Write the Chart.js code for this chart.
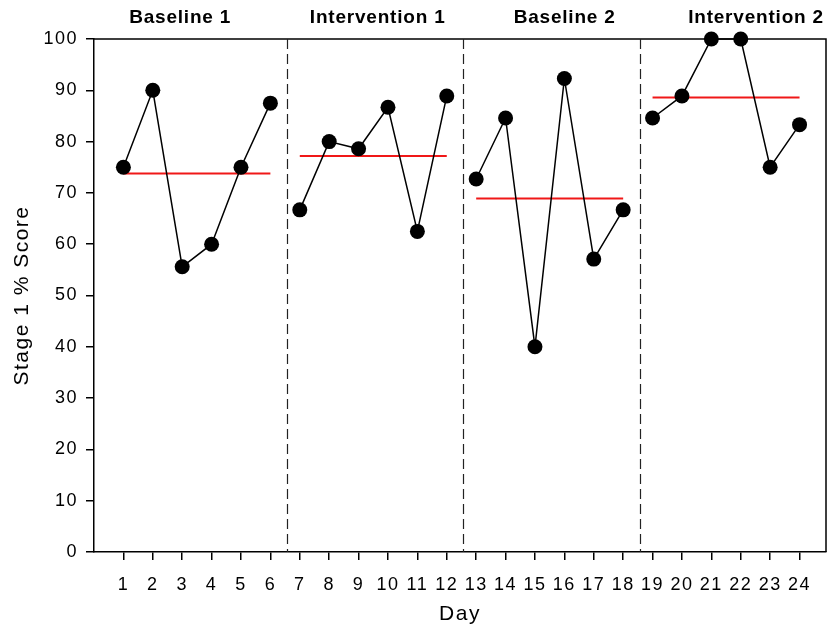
<!DOCTYPE html>
<html>
<head>
<meta charset="utf-8">
<script src="https://cdn.jsdelivr.net/npm/chart.js@4"></script>
<style>
  html, body { margin: 0; padding: 0; background: #fff; }
</style>
</head>
<body>
<canvas id="chart" width="829" height="632"></canvas>
<script>
// data
const days = [1, 2, 3, 4, 5, 6, 7, 8, 9, 10, 11, 12, 13, 14, 15, 16, 17, 18, 19, 20, 21, 22, 23, 24];
const scores = [75, 90, 55.6, 60, 75, 87.5, 66.7, 80, 78.6, 86.7, 62.5, 88.9,
                72.7, 84.6, 40, 92.3, 57.1, 66.7, 84.6, 88.9, 100, 100, 75, 83.3];
const phaseNames = ['Baseline 1', 'Intervention 1', 'Baseline 2', 'Intervention 2'];
const phaseFirstDay = [1, 7, 13, 19];
const phaseLastDay = [6, 12, 18, 24];
const phaseMeans = [73.8, 77.2, 68.9, 88.6];
const phaseChanges = [6.56, 12.56, 18.56];

Chart.defaults.font.family = '"Liberation Sans", Arial, Helvetica, sans-serif';
Chart.defaults.color = '#000';

var datasets = [];

// one line per phase so the phases do not join up
phaseNames.forEach((name, i) => {
  var pts = [];
  days.forEach((d, j) => {
    if (d >= phaseFirstDay[i] && d <= phaseLastDay[i]) pts.push({x: d, y: scores[j]});
  });
  datasets.push({
    label: name,
    data: pts,
    borderColor: '#000',
    borderWidth: 1.5,
    pointRadius: 7.5,
    pointBackgroundColor: '#000',
    pointBorderColor: '#000',
    pointBorderWidth: 0,
    clip: false,
    order: 1
  });
});

// phase means (red)
phaseMeans.forEach((m, i) => {
  datasets.push({
    label: phaseNames[i] + ' mean',
    data: [{x: phaseFirstDay[i], y: m}, {x: phaseLastDay[i], y: m}],
    borderColor: '#f01818',
    borderWidth: 2,
    pointRadius: 0,
    order: 2
  });
});

const spacing = {
  id: 'spacing',
  beforeDraw(chart) {
    chart.ctx.letterSpacing = '1.5px';
  }
};

const frame = {
  id: 'frame',
  beforeDatasetsDraw(chart) {
    var ctx = chart.ctx, a = chart.chartArea, x = chart.scales.x;
    ctx.save();
    // top + right of the box
    ctx.strokeStyle = '#000';
    ctx.lineWidth = 1.5;
    ctx.beginPath();
    ctx.moveTo(a.left, a.top);
    ctx.lineTo(a.right, a.top);
    ctx.lineTo(a.right, a.bottom);
    ctx.stroke();
    // phase change lines
    ctx.strokeStyle = '#222';
    ctx.lineWidth = 1.2;
    ctx.setLineDash([10, 5]);
    phaseChanges.forEach((v) => {
      var px = Math.round(x.getPixelForValue(v)) + 0.5;
      ctx.beginPath();
      ctx.moveTo(px, a.top);
      ctx.lineTo(px, a.bottom);
      ctx.stroke();
    });
    ctx.restore();
  },
  afterDraw(chart, args, opts) {
    var ctx = chart.ctx, x = chart.scales.x;
    ctx.save();
    ctx.letterSpacing = '0.8px';
    ctx.font = 'bold 19px "Liberation Sans", Arial, sans-serif';
    ctx.fillStyle = '#000';
    ctx.textAlign = 'center';
    ctx.textBaseline = 'middle';
    phaseNames.forEach((n, i) => {
      ctx.fillText(n, x.getPixelForValue(opts.labelAt[i]), 18);
    });
    ctx.restore();
  }
};

new Chart(document.getElementById('chart'), {
  type: 'line',
  data: { datasets: datasets },
  plugins: [spacing, frame],
  options: {
    responsive: false,
    animation: false,
    layout: { autoPadding: false, padding: { top: 39, right: 3, left: 0, bottom: 0 } },
    plugins: {
      legend: { display: false },
      tooltip: { enabled: false },
      frame: { labelAt: [2.93, 9.65, 16.01, 22.52] }
    },
    scales: {
      x: {
        type: 'linear',
        min: 0,
        max: 24.9,
        afterBuildTicks: (scale) => { scale.ticks = days.map((d) => ({value: d})); },
        afterFit: (scale) => {
          scale.height = 80;
          scale.paddingLeft = 0;
          scale.paddingRight = 0;
        },
        ticks: {
          autoSkip: false,
          maxRotation: 0,
          padding: 14,
          font: { size: 18 },
          callback: (v) => v
        },
        grid: { drawOnChartArea: false, tickLength: 8, color: '#000', lineWidth: 1.5 },
        border: { color: '#000', width: 1.5 },
        title: { display: true, text: 'Day', font: { size: 21 }, padding: { top: 0, bottom: 5 } }
      },
      y: {
        min: 0,
        max: 100,
        afterFit: (scale) => {
          scale.width = 94;
          scale.paddingTop = 0;
          scale.paddingBottom = 0;
        },
        ticks: { stepSize: 10, padding: 8, font: { size: 18 } },
        grid: { drawOnChartArea: false, tickLength: 8, color: '#000', lineWidth: 1.5 },
        border: { color: '#000', width: 1.5 },
        title: { display: true, text: 'Stage 1 % Score', font: { size: 21 }, padding: { top: 10, bottom: 0 } }
      }
    }
  }
});
</script>
</body>
</html>
